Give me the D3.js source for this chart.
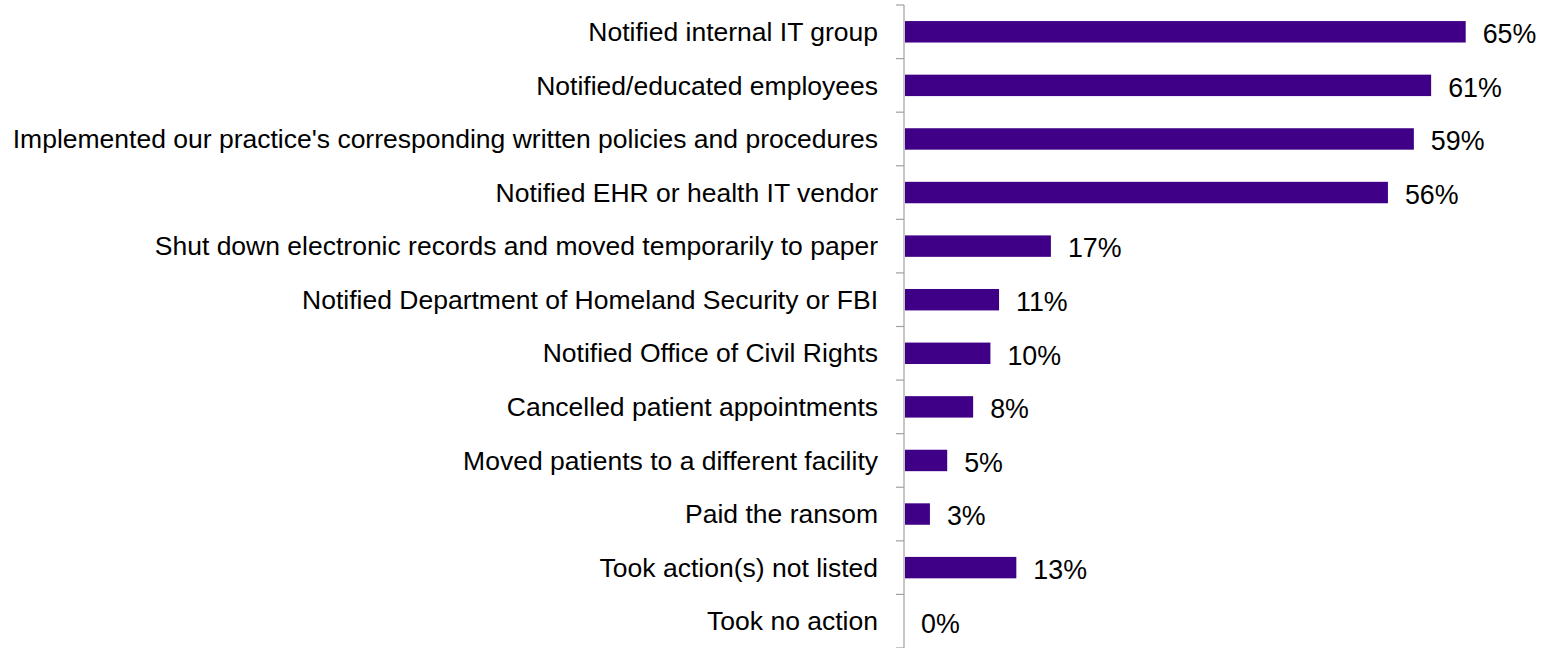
<!DOCTYPE html>
<html>
<head>
<meta charset="utf-8">
<script src="https://cdn.jsdelivr.net/npm/d3@7"></script>
<style>
  body { margin: 0; background: #fff; }
  text { font-family: "Liberation Sans", Arial, sans-serif; }
</style>
</head>
<body>
<div class="chart"></div>
<script>
var categories = [
  "Notified internal IT group",
  "Notified/educated employees",
  "Implemented our practice's corresponding written policies and procedures",
  "Notified EHR or health IT vendor",
  "Shut down electronic records and moved temporarily to paper",
  "Notified Department of Homeland Security or FBI",
  "Notified Office of Civil Rights",
  "Cancelled patient appointments",
  "Moved patients to a different facility",
  "Paid the ransom",
  "Took action(s) not listed",
  "Took no action"
];
var values = [65, 61, 59, 56, 17, 11, 10, 8, 5, 3, 13, 0];

var width = 1546, height = 648;
var margin = {top: 5, right: 0, bottom: 0, left: 904};

var svg = d3.select(".chart").append("svg")
  .attr("width", width)
  .attr("height", height);

var x = d3.scaleLinear()
  .domain([0, 65])
  .range([margin.left, margin.left + 561.7]);

var y = d3.scaleBand()
  .domain(categories)
  .range([margin.top, height])
  .paddingInner(0.6)
  .paddingOuter(0.3);

var step = y.step();

// axis line + ticks at band boundaries
var axis = svg.append("g");
axis.append("line")
  .attr("x1", margin.left).attr("x2", margin.left)
  .attr("y1", margin.top).attr("y2", height)
  .attr("stroke", "#a0a0a0").attr("stroke-width", 1.2);

var bounds = d3.range(categories.length + 1).map(function(i) { return margin.top + i * step; });
axis.selectAll(".tick")
  .data(bounds)
  .enter().append("line")
  .attr("x1", margin.left - 8).attr("x2", margin.left)
  .attr("y1", function(d) { return d; }).attr("y2", function(d) { return d; })
  .attr("stroke", "#a0a0a0").attr("stroke-width", 1.2);

svg.selectAll(".bar")
  .data(values)
  .enter().append("rect")
  .attr("class", "bar")
  .attr("x", x(0) + 1)
  .attr("y", function(d, i) { return y(categories[i]); })
  .attr("width", function(d) { return Math.max(0, x(d) - x(0) - 1); })
  .attr("height", y.bandwidth())
  .attr("fill", "#3f0087");

svg.selectAll(".cat")
  .data(categories)
  .enter().append("text")
  .attr("x", margin.left - 26)
  .attr("y", function(d) { return y(d) + y.bandwidth() / 2 + 9.2; })
  .attr("text-anchor", "end")
  .attr("font-size", 26.5)
  .attr("fill", "#000")
  .text(function(d) { return d; });

svg.selectAll(".val")
  .data(values)
  .enter().append("text")
  .attr("x", function(d) { return x(d) + 17; })
  .attr("y", function(d, i) { return y(categories[i]) + y.bandwidth() / 2 + 11.3; })
  .attr("font-size", 26.8)
  .attr("fill", "#000")
  .text(function(d) { return d + "%"; });
</script>
</body>
</html>
